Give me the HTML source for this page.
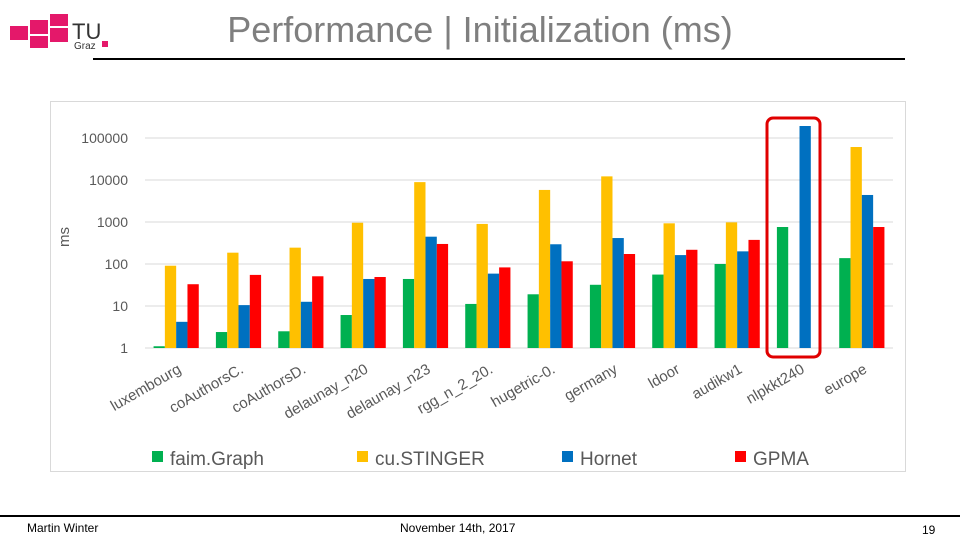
<!DOCTYPE html>
<html><head><meta charset="utf-8">
<style>
body{margin:0;width:960px;height:540px;background:#fff;overflow:hidden;font-family:"Liberation Sans",sans-serif;position:relative}
.abs{position:absolute}
</style></head>
<body>
<div class="abs" style="left:10px;top:12px;width:100px;height:40px">
<svg width="100" height="40"><g fill="#e4186a">
<rect x="0" y="14" width="18" height="14"/><rect x="20" y="8" width="18" height="14"/><rect x="20" y="24" width="18" height="12"/><rect x="40" y="2" width="18" height="12"/><rect x="40" y="16" width="18" height="14"/><rect x="92" y="29" width="6" height="6"/></g>
<text x="62" y="27" font-size="22" font-family="Liberation Sans" fill="#333">TU</text>
<text x="64" y="37" font-size="10" font-family="Liberation Sans" fill="#333">Graz</text></svg></div>
<div class="abs" style="left:0;width:960px;top:9px;text-align:center;font-size:36px;color:#7f7f7f;padding-left:0">Performance | Initialization (ms)</div>
<div class="abs" style="left:93px;top:58px;width:812px;height:2px;background:#000"></div>
<div class="abs" style="left:50px;top:101px;width:854px;height:369px;border:1px solid #d9d9d9"></div>
<svg class="abs" style="left:0;top:0" width="960" height="540" id="chart"></svg>
<div class="abs" style="left:0;top:515px;width:960px;height:2px;background:#000"></div>
<div class="abs" style="left:27px;top:521px;font-size:12px">Martin Winter</div>
<div class="abs" style="left:400px;top:521px;font-size:12px">November 14th, 2017</div>
<div class="abs" style="left:922px;top:523px;font-size:12px">19</div>
<script>
const categories=["luxembourg","coAuthorsC.","coAuthorsD.","delaunay_n20","delaunay_n23","rgg_n_2_20.","hugetric-0.","germany","ldoor","audikw1","nlpkkt240","europe"];
const seriesNames=["faim.Graph","cu.STINGER","Hornet","GPMA"];
const faimGraph=[1.1,2.4,2.5,6.1,44,11.2,19,32,56,100,760,138];
const cuSTINGER=[91,186,245,960,8900,900,5800,12200,930,980,null,61000];
const hornet=[4.2,10.5,12.6,44,447,59,295,415,163,200,193000,4400];
const gpma=[33,55,51,49,300,83,116,173,218,375,null,760];
const yTicks=[1,10,100,1000,10000,100000];
const colors=["#00b050","#ffc000","#0070c0","#ff0000"];
const series=[faimGraph,cuSTINGER,hornet,gpma];
const NS="http://www.w3.org/2000/svg";
const svg=document.getElementById("chart");
const x0=145,x1=893,yBase=348,perDec=42;
const y=v=>yBase-Math.log10(v)*perDec;
const gw=(x1-x0)/categories.length,bw=11.3;
function mk(t,a){const e=document.createElementNS(NS,t);for(const k in a)e.setAttribute(k,a[k]);svg.appendChild(e);return e;}
yTicks.forEach(t=>{
 const l=mk("line",{x1:x0,x2:x1,y1:y(t),y2:y(t),stroke:"#d9d9d9","stroke-width":1});
 
 
 const tx=mk("text",{x:128,y:y(t)+5,"text-anchor":"end","font-size":14,fill:"#595959","font-family":"Liberation Sans"});
 tx.textContent=t;
 
 
});
const yt=mk("text",{x:0,y:0,transform:"translate(69,237) rotate(-90)","text-anchor":"middle","font-size":15,fill:"#595959","font-family":"Liberation Sans"});
yt.textContent="ms";


categories.forEach((c,i)=>{
 const gx=x0+i*gw+(gw-4*bw)/2;
 series.forEach((s,j)=>{
  const v=s[i]; if(v==null)return;
  const r=mk("rect",{x:gx+j*bw,y:y(v),width:bw,height:yBase-y(v),fill:colors[j]});
  
  
 });
 const cx=x0+i*gw+gw/2+6;
 const t=mk("text",{x:0,y:0,transform:`translate(${cx},372) rotate(-30)`,"text-anchor":"end","font-size":15,fill:"#595959","font-family":"Liberation Sans"});
 t.textContent=c;
 
 
});
const box=mk("rect",{x:767,y:118,width:53,height:239,rx:6,fill:"none",stroke:"#e00000","stroke-width":3});


const lx=[152,357,562,735];
seriesNames.forEach((n,j)=>{
 const r=mk("rect",{x:lx[j],y:451,width:11,height:11,fill:colors[j]});
 
 
 const t=mk("text",{x:lx[j]+18,y:465,"font-size":19,fill:"#595959","font-family":"Liberation Sans"});
 t.textContent=n;
 
 
});
</script>
</body></html>
